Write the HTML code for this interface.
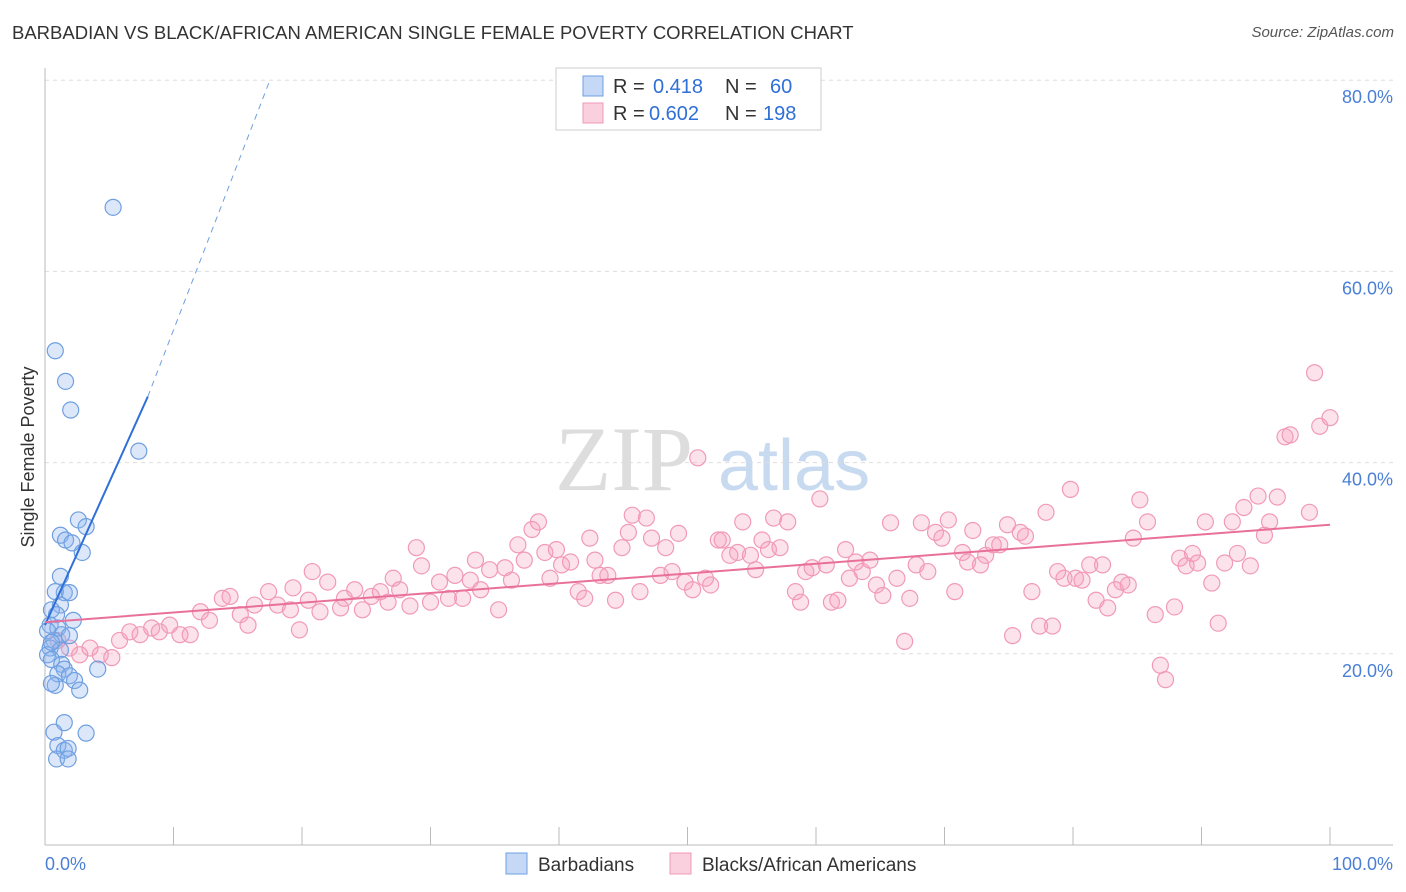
<!DOCTYPE html>
<html><head><meta charset="utf-8">
<style>
body{margin:0;background:#fff;font-family:"Liberation Sans",sans-serif;}
#wrap{position:relative;width:1406px;height:892px;}
.title{position:absolute;left:12px;top:22px;font-size:18.5px;color:#333;}
.source{position:absolute;right:12px;top:24px;font-size:15px;color:#555;font-style:italic;}
</style></head><body>
<div id="wrap">
<div class="title">BARBADIAN VS BLACK/AFRICAN AMERICAN SINGLE FEMALE POVERTY CORRELATION CHART</div>
<div class="source">Source: ZipAtlas.com</div>
<svg id="chart" width="1406" height="892" style="position:absolute;left:0;top:0"></svg>
</div>
<script>
const blueX=[5.3,0.8,1.6,2.0,7.3,2.6,3.2,1.2,1.6,2.1,2.9,1.2,1.5,1.9,0.8,1.2,0.5,0.9,2.2,0.4,1.0,1.3,1.9,0.7,0.4,1.2,0.2,0.5,1.3,1.5,1.0,1.9,4.1,2.3,2.7,0.8,0.5,1.5,0.7,3.2,1.0,1.5,1.8,0.9,1.8,0.2,0.5];
const blueY=[66.7,51.7,48.5,45.5,41.2,34.0,33.3,32.4,31.9,31.6,30.6,28.1,26.4,26.4,26.5,25.1,24.6,24.1,23.5,23.0,22.7,22.0,21.9,21.4,20.6,20.4,19.9,19.4,18.9,18.4,17.9,17.7,18.4,17.2,16.2,16.7,16.9,12.8,11.8,11.7,10.4,9.9,10.1,9.0,9.0,22.4,21.2];
const pinkX=[1.0,1.9,2.7,3.5,4.3,5.2,5.8,6.6,7.4,8.3,8.9,9.7,10.5,11.3,12.1,12.8,13.8,14.4,15.2,15.8,16.3,17.4,18.1,19.1,19.3,19.8,20.5,20.8,21.4,22.0,23.0,23.3,24.1,24.7,25.4,26.1,26.7,27.1,27.6,28.4,28.9,29.3,30.0,30.7,31.4,31.9,32.5,33.1,33.5,33.9,34.6,35.3,35.8,36.3,36.8,37.3,37.9,38.4,38.9,39.3,39.8,40.2,40.9,41.5,42.0,42.4,42.8,43.2,43.8,44.4,44.9,45.4,45.7,46.3,46.8,47.2,47.9,48.3,48.8,49.3,49.8,50.4,50.8,51.4,51.8,52.4,52.7,53.3,53.9,54.3,54.9,55.3,55.8,56.3,56.7,57.2,57.8,58.4,58.8,59.2,59.7,60.3,60.8,61.2,61.7,62.3,62.6,63.1,63.6,64.2,64.7,65.2,65.8,66.3,66.9,67.3,67.8,68.2,68.7,69.3,69.8,70.3,70.8,71.4,71.8,72.2,72.8,73.2,73.8,74.3,74.9,75.3,75.9,76.3,76.8,77.4,77.9,78.4,78.8,79.3,79.8,80.2,80.7,81.3,81.8,82.3,82.7,83.3,83.8,84.3,84.7,85.2,85.8,86.4,86.8,87.2,87.9,88.3,88.8,89.3,89.7,90.3,90.8,91.3,91.8,92.4,92.8,93.3,93.8,94.4,94.9,95.3,95.9,96.5,96.9,98.4,98.8,99.2,100];
const pinkY=[21.4,20.6,19.9,20.6,19.9,19.6,21.4,22.3,22.0,22.7,22.3,23.0,22.0,22.0,24.4,23.5,25.8,26.0,24.1,23.0,25.1,26.5,25.1,24.6,26.9,22.5,25.6,28.6,24.4,27.5,24.8,25.8,26.7,24.6,26.0,26.5,25.4,27.9,26.7,25.0,31.1,29.2,25.4,27.5,25.8,28.2,25.8,27.7,29.8,26.7,28.8,24.6,29.0,27.7,31.4,29.8,33.0,33.8,30.6,27.9,30.9,29.3,29.6,26.5,25.8,32.1,29.8,28.2,28.2,25.6,31.1,32.7,34.5,26.5,34.2,32.1,28.2,31.1,28.6,32.6,27.5,26.7,40.5,27.9,27.2,31.9,31.9,30.3,30.6,33.8,30.3,28.8,31.9,30.9,34.2,31.1,33.8,26.5,25.4,28.6,29.0,36.2,29.3,25.4,25.6,30.9,27.9,29.6,28.6,29.8,27.2,26.1,33.7,27.9,21.3,25.8,29.3,33.7,28.6,32.7,32.1,34.0,26.5,30.6,29.6,32.9,29.3,30.3,31.4,31.4,33.5,21.9,32.7,32.3,26.5,22.9,34.8,22.9,28.6,27.9,37.2,27.9,27.7,29.3,25.6,29.3,24.8,26.7,27.5,27.2,32.1,36.1,33.8,24.1,18.8,17.3,24.9,30.0,29.2,30.5,29.5,33.8,27.4,23.2,29.5,33.8,30.5,35.3,29.2,36.5,32.4,33.8,36.4,42.7,42.9,34.8,49.4,43.8,44.7];
const yTicks=[20,40,60,80];
const yTickLabels=["20.0%","40.0%","60.0%","80.0%"];
const blueLine=[0,23,8,46.9];
const blueDash=[8,46.9,17.5,80];
const pinkLine=[0,23.3,100,33.5];

const svg=document.getElementById('chart');
const NS='http://www.w3.org/2000/svg';
const sx=v=>45+v*12.85, sy=v=>845-v*9.56;
function mk(t,a){const e=document.createElementNS(NS,t);for(const k in a)e.setAttribute(k,a[k]);svg.appendChild(e);return e;}
let wm=mk('text',{x:555,y:490,'font-size':92,fill:'#ddd','font-family':'Liberation Serif,serif'});wm.textContent='ZIP';

let wm2=mk('text',{x:718,y:490,'font-size':72,fill:'#c8daf0','font-family':'Liberation Sans,sans-serif'});wm2.textContent='atlas';

yTicks.forEach((t,i)=>{
 let g=mk('line',{x1:45,x2:1393,y1:sy(t),y2:sy(t),stroke:'#ddd','stroke-dasharray':'4,4'});
 
 let l=mk('text',{x:1393,y:sy(t)+23,'text-anchor':'end','font-size':18,fill:'#4a7fd6'});l.textContent=yTickLabels[i];
 
});
let ax=mk('line',{x1:45,x2:1393,y1:845,y2:845,stroke:'#bbb'});
let ay=mk('line',{x1:45,x2:45,y1:68,y2:845,stroke:'#bbb'});
for(let i=1;i<=10;i++){let t=mk('line',{x1:45+i*128.5,x2:45+i*128.5,y1:827,y2:845,stroke:'#bbb'});}
let x0=mk('text',{x:45,y:870,'font-size':18,fill:'#4a7fd6'});x0.textContent='0.0%';
let x1=mk('text',{x:1393,y:870,'font-size':18,fill:'#4a7fd6','text-anchor':'end'});x1.textContent='100.0%';
let yt=mk('text',{x:34,y:457,'font-size':18,fill:'#333','text-anchor':'middle',transform:'rotate(-90 34 457)'});yt.textContent='Single Female Poverty';

pinkX.forEach((v,i)=>{let c=mk('circle',{cx:sx(v),cy:sy(pinkY[i]),r:8,fill:'rgba(246,160,190,0.3)',stroke:'#f19ab8','stroke-width':1.2});
 });
blueX.forEach((v,i)=>{let c=mk('circle',{cx:sx(v),cy:sy(blueY[i]),r:8,fill:'rgba(140,180,240,0.3)',stroke:'#6f9fe0','stroke-width':1.2});
 });
let bl=mk('line',{x1:sx(blueLine[0]),y1:sy(blueLine[1]),x2:sx(blueLine[2]),y2:sy(blueLine[3]),stroke:'#2f6fd8','stroke-width':2});

let bd=mk('line',{x1:sx(blueDash[0]),y1:sy(blueDash[1]),x2:sx(blueDash[2]),y2:sy(blueDash[3]),stroke:'#6f9fe0','stroke-width':1,'stroke-dasharray':'6,5'});

let pl=mk('line',{x1:sx(pinkLine[0]),y1:sy(pinkLine[1]),x2:sx(pinkLine[2]),y2:sy(pinkLine[3]),stroke:'#e8709a','stroke-width':2});

let lb=mk('rect',{x:556,y:68,width:265,height:62,fill:'#fff',stroke:'#ccc'});
[[0,'rgba(140,180,240,0.5)','#6f9fe0','0.418','60',770],[1,'rgba(246,160,190,0.5)','#f19ab8','0.602','198',763]].forEach(r=>{
 const y=86+r[0]*27;
 let s=mk('rect',{x:583,y:y-10,width:20,height:20,fill:r[1],stroke:r[2]});
 let t1=mk('text',{x:613,y:y+7,'font-size':20,fill:'#333'});t1.textContent='R =';
 let t2=mk('text',{x:r[0]?649:653,y:y+7,'font-size':20,fill:'#2f6fd8'});t2.textContent=r[3];
 let t3=mk('text',{x:725,y:y+7,'font-size':20,fill:'#333'});t3.textContent='N =';
 let t4=mk('text',{x:r[5],y:y+7,'font-size':20,fill:'#2f6fd8'});t4.textContent=r[4];
});
[[506,'rgba(140,180,240,0.5)','#6f9fe0','Barbadians'],[670,'rgba(246,160,190,0.5)','#f19ab8','Blacks/African Americans']].forEach(r=>{
 let s=mk('rect',{x:r[0],y:853,width:21,height:21,fill:r[1],stroke:r[2]});
 let t=mk('text',{x:r[0]+32,y:871,'font-size':19,fill:'#333'});t.textContent=r[3];
});
</script>
</body></html>
